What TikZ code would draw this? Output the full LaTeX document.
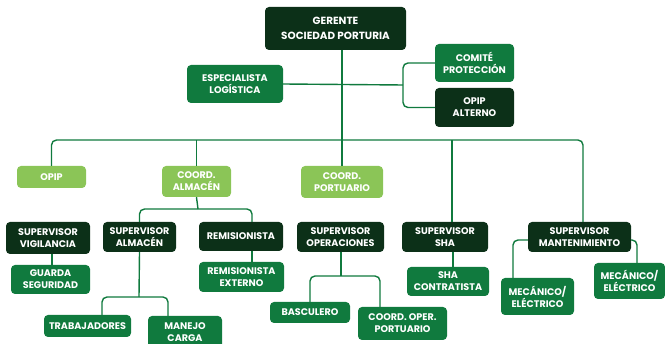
\documentclass[tikz,border=0pt]{standalone}
\usepackage{fontspec}
\setmainfont{Poppins}
\usepackage{xcolor}
\usetikzlibrary{positioning}
\definecolor{darkgreen}{HTML}{0C3018}
\definecolor{midgreen}{HTML}{107A3E}
\definecolor{lightgreen}{HTML}{8BC557}

\begin{document}
\begin{tikzpicture}[x=1pt, y=-1pt]
\tikzstyle{box} = [rectangle, rounded corners=4pt, text=white, align=center, inner sep=1pt, font=\bfseries\fontsize{9.6}{12}\selectfont]
\tikzstyle{darkbox} = [box, fill=darkgreen]
\tikzstyle{midbox} = [box, fill=midgreen]
\tikzstyle{lightbox} = [box, fill=lightgreen]
\tikzstyle{conn} = [draw=midgreen, line width=1.4pt, rounded corners=5pt]

\useasboundingbox (0,0) rectangle (665,344);

% top level
\node (ger) [darkbox, minimum width=141pt, minimum height=43pt, font=\bfseries\fontsize{10.4}{15}\selectfont] at (335.5,28.5) {GERENTE\\SOCIEDAD PORTURIA};
\node (esp) [midbox, minimum width=96pt, minimum height=38pt] at (235,84) {ESPECIALISTA\\LOGÍSTICA};
\node (com) [midbox, minimum width=79pt, minimum height=38pt] at (474.5,63) {COMITÉ\\PROTECCIÓN};
\node (alt) [darkbox, minimum width=79pt, minimum height=39pt] at (474.5,107.5) {OPIP\\ALTERNO};

% second level
\node (opip) [lightbox, minimum width=69pt, minimum height=22pt] at (51.5,177) {OPIP};
\node (calm) [lightbox, minimum width=69pt, minimum height=31pt] at (196.5,181.5) {COORD.\\ALMACÉN};
\node (cport) [lightbox, minimum width=82pt, minimum height=32pt] at (342,182) {COORD.\\PORTUARIO};

% supervisors
\node (svig) [darkbox, minimum width=84pt, minimum height=32pt] at (48,238) {SUPERVISOR\\VIGILANCIA};
\node (svalm) [darkbox, minimum width=73pt, minimum height=30pt] at (139.5,237) {SUPERVISOR\\ALMACÉN};
\node (remi) [darkbox, minimum width=84pt, minimum height=29pt] at (241,236.5) {REMISIONISTA};
\node (svop) [darkbox, minimum width=87pt, minimum height=30pt] at (340.5,237) {SUPERVISOR\\OPERACIONES};
\node (sha) [darkbox, minimum width=86pt, minimum height=30pt] at (445,237) {SUPERVISOR\\SHA};
\node (mant) [darkbox, minimum width=103pt, minimum height=30pt] at (579.5,237) {SUPERVISOR\\MANTENIMIENTO};

% staff
\node (guard) [midbox, minimum width=79pt, minimum height=29pt] at (50.5,279.5) {GUARDA\\SEGURIDAD};
\node (rext) [midbox, minimum width=85pt, minimum height=30pt] at (241.5,277) {REMISIONISTA\\EXTERNO};
\node (trab) [midbox, minimum width=87pt, minimum height=22pt] at (87.5,326) {TRABAJADORES};
\node (mcar) [midbox, minimum width=74pt, minimum height=32pt] at (185,332) {MANEJO\\CARGA};
\node (basc) [midbox, minimum width=80pt, minimum height=21pt] at (310,312.5) {BASCULERO};
\node (coop) [midbox, minimum width=89pt, minimum height=33pt] at (402.5,323.5) {COORD. OPER.\\PORTUARIO};
\node (shac) [midbox, minimum width=82pt, minimum height=29pt] at (448,281.5) {SHA\\CONTRATISTA};
\node (mec1) [midbox, minimum width=73pt, minimum height=37pt] at (537.5,296.5) {MECÁNICO/\\ELÉCTRICO};
\node (mec2) [midbox, minimum width=71pt, minimum height=36pt] at (629.5,281) {MECÁNICO/\\ELÉCTRICO};

% helper coordinates
\coordinate (brk) at (403,85);
\coordinate (bus) at (341,140);
\coordinate (almbus) at (198,209);
\coordinate (alebus) at (139,297);
\coordinate (opbus) at (341,276);

% connectors
\draw [conn] (ger.south -| cport) -- (cport.north);
\draw [conn] (esp.east) -- (brk);
\draw [conn] (com.west) -| (brk) |- (alt.west);
\draw [conn] (opip.north) |- (bus) -| ([xshift=3.5pt]mant.north);
\draw [conn] (bus -| calm) -- (calm.north);
\draw [conn] ([xshift=7pt]sha.north |- bus) -- ([xshift=7pt]sha.north);
\draw [conn] (calm.south) -- (almbus);
\draw [conn] (svalm.north) |- (almbus) -| ([xshift=11pt]remi.north);
\draw [conn] ([xshift=1.5pt]guard.north) -- ([xshift=1.5pt]guard.north |- svig.south);
\draw [conn] ([xshift=11pt]remi.south) -- ([xshift=11pt]remi.south |- rext.north);
\draw [conn] (svalm.south) -- (alebus);
\draw [conn] ([xshift=14.5pt]trab.north) |- (alebus) -| ([xshift=-17pt]mcar.north);
\draw [conn] (svop.south -| opbus) -- (opbus);
\draw [conn] (basc.north) |- (opbus) -| ([xshift=-22.5pt]coop.north);
\draw [conn] ([xshift=8pt]sha.south) -- ([xshift=8pt]sha.south |- shac.north);
\draw [conn] ([yshift=-3pt]mant.west) -| ([xshift=-24.5pt]mec1.north);
\draw [conn] ([yshift=-3pt]mant.east) -| ([xshift=7.5pt]mec2.north);

\end{tikzpicture}
\end{document}
